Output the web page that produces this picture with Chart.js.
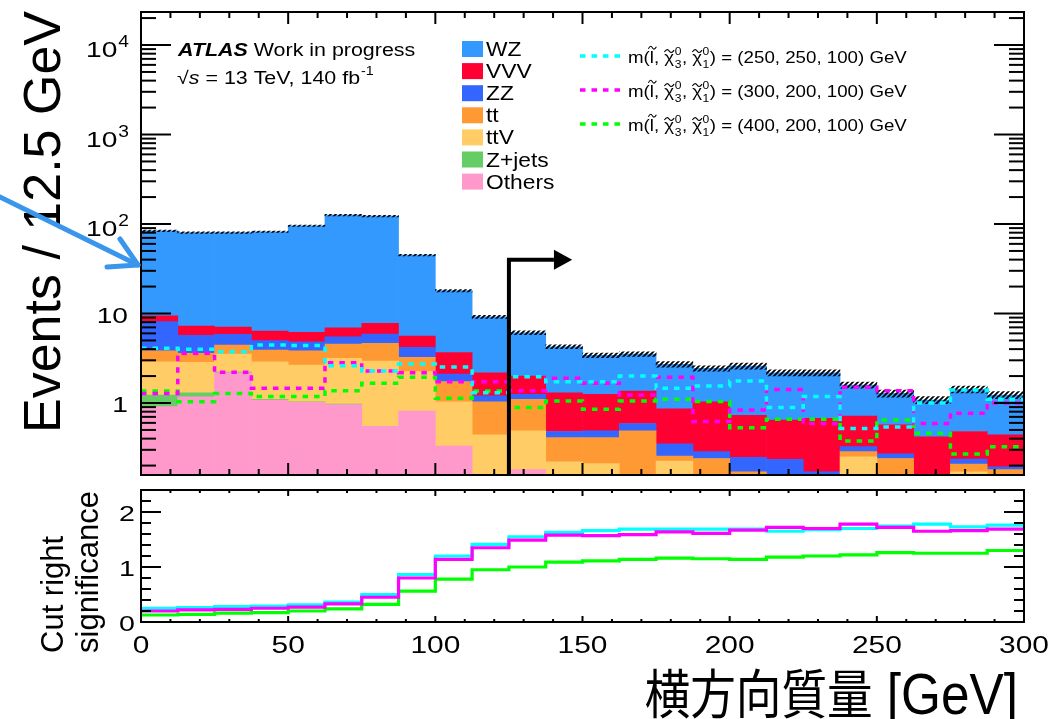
<!DOCTYPE html>
<html>
<head>
<meta charset="utf-8">
<script src="https://cdn.jsdelivr.net/npm/chart.js@4.4.1/dist/chart.umd.min.js"></script>
<style>
  html, body { margin: 0; padding: 0; background: #ffffff; overflow: hidden; }
  #wrap { position: relative; width: 1049px; height: 719px; background: #ffffff; }
  canvas { position: absolute; left: 0; }
  #mainCanvas { top: 0; }
  #ratioCanvas { top: 480px; }
</style>
</head>
<body>
<div id="wrap">
  <canvas id="mainCanvas" width="1049" height="480"></canvas>
  <canvas id="ratioCanvas" width="1049" height="239"></canvas>
</div>
<script>
// ---------------- binning (12.5 GeV bins, 0-300 GeV) ----------------
const binWidth = 12.5;
const binLow = [0, 12.5, 25, 37.5, 50, 62.5, 75, 87.5, 100, 112.5, 125, 137.5,
                150, 162.5, 175, 187.5, 200, 212.5, 225, 237.5, 250, 262.5, 275, 287.5];

// ---------------- background yields per bin ----------------
const bkgOthers = [0.91, 1.17, 2.18, 1.08, 1.02, 0.96, 0.55, 0.81, 0.33, 0.08, 0.18, 0.06,
                   0.05, 0.04, 0.05, 0.03, 0.02, 0.02, 0.02, 0.03, 0.02, 0.01, 0.02, 0.02];
const bkgZjets  = [0.32, 0.13, 0.04, 0.02, 0.01, 0.01, 0, 0, 0, 0, 0, 0,
                   0, 0, 0, 0, 0, 0, 0, 0, 0, 0, 0, 0];
const bkgTtV    = [1.66, 1.55, 1.31, 1.79, 1.63, 2.19, 2.39, 1.44, 0.70, 0.36, 0.31, 0.16,
                   0.16, 0.08, 0.175, 0.07, 0.06, 0.03, 0.03, 0.22, 0.04, 0.02, 0.15, 0.04];
const bkgTt     = [0.95, 0.75, 0.92, 1.02, 1.18, 1.40, 1.71, 0.99, 0.70, 0.59, 0.61, 0.19,
                   0.20, 0.37, 0.031, 0.14, 0.09, 0.05, 0.04, 0.036, 0.18, 0.04, 0.038, 0.12];
const bkgZZ     = [4.26, 2.10, 1.40, 1.06, 1.00, 0.94, 1.25, 0.95, 0.38, 0.17, 0.15, 0.07,
                   0.08, 0.10, 0.094, 0.046, 0.077, 0.135, 0.08, 0.039, 0.03, 0.05, 0.029, 0.014];
const bkgVVV    = [1.30, 1.55, 1.21, 1.40, 1.33, 1.43, 1.87, 1.41, 1.54, 0.98, 0.75, 0.82,
                   0.76, 0.77, 0.51, 0.744, 0.483, 0.41, 0.505, 0.391, 0.30, 0.30, 0.243, 0.246];
const bkgWZ     = [74.6, 72.8, 72.9, 75.6, 89.5, 119, 115, 39.4, 14.35, 7.0, 4.1, 2.95,
                   2.16, 2.17, 1.85, 1.41, 1.86, 1.535, 1.505, 0.874, 0.71, 0.66, 0.94, 0.79];
// relative uncertainty on the total background
const bkgRelUnc = [0.02, 0.02, 0.02, 0.02, 0.02, 0.02, 0.02, 0.02, 0.03, 0.04, 0.05, 0.05,
                   0.06, 0.06, 0.07, 0.07, 0.08, 0.08, 0.08, 0.08, 0.09, 0.09, 0.09, 0.09];

// stacking order, bottom to top
const bkgNames  = ['Others', 'Z+jets', 'ttV', 'tt', 'ZZ', 'VVV', 'WZ'];
const bkgColors = ['#ff99cc', '#66cc66', '#ffcc66', '#ff9933', '#3366ff', '#ff0033', '#3399ff'];
const bkgSeries = [bkgOthers, bkgZjets, bkgTtV, bkgTt, bkgZZ, bkgVVV, bkgWZ];

// ---------------- signal yields per bin ----------------
const sig250_250_100 = [4.08, 3.98, 3.74, 4.45, 4.40, 2.60, 2.28, 2.73, 2.52, 1.30, 1.97, 1.73,
                        1.73, 2.00, 1.46, 1.55, 1.76, 0.89, 1.18, 0.52, 0.54, 1.00, 1.40, 1.10];
const sig300_200_100 = [1.28, 3.59, 2.20, 1.46, 1.46, 2.82, 2.28, 2.18, 1.73, 1.73, 1.37, 1.89,
                        1.66, 1.23, 1.94, 0.62, 0.835, 1.42, 0.59, 1.50, 1.37, 0.59, 0.77, 1.00];
const sig400_200_100 = [1.36, 1.03, 1.28, 1.18, 1.18, 1.37, 1.66, 1.94, 1.13, 1.36, 0.89, 1.05,
                        0.85, 1.05, 1.10, 1.04, 0.53, 0.66, 0.66, 0.376, 0.645, 0.46, 0.27, 0.325];
const signalMasses = [[250, 250, 100], [300, 200, 100], [400, 200, 100]];
const signalColors = ['#00ffff', '#ff00ff', '#00ff00'];
const signalSeries = [sig250_250_100, sig300_200_100, sig400_200_100];

// ---------------- cut-right significance per bin ----------------
const signif250_250_100 = [0.25, 0.26, 0.28, 0.29, 0.31, 0.36, 0.50, 0.86, 1.20, 1.41, 1.55, 1.63,
                           1.66, 1.69, 1.69, 1.69, 1.69, 1.65, 1.68, 1.70, 1.745, 1.78, 1.73, 1.76];
const signif300_200_100 = [0.20, 0.22, 0.23, 0.25, 0.27, 0.33, 0.45, 0.80, 1.14, 1.35, 1.49, 1.58,
                           1.57, 1.59, 1.64, 1.61, 1.67, 1.72, 1.70, 1.78, 1.72, 1.65, 1.66, 1.69];
const signif400_200_100 = [0.127, 0.14, 0.16, 0.17, 0.20, 0.24, 0.32, 0.56, 0.78, 0.95, 1.00, 1.09,
                           1.11, 1.14, 1.16, 1.15, 1.14, 1.18, 1.20, 1.22, 1.26, 1.25, 1.25, 1.30];
const signifSeries = [signif250_250_100, signif300_200_100, signif400_200_100];

// ---------------- axes, ticks, labels ----------------
const xMin = 0, xMax = 300;
const xTickLabels = [0, 50, 100, 150, 200, 250, 300];
const mainYMin = 0.1569, mainYMax = 23380;
const mainYTickLabels = [1, 10, 100, 1000, 10000];
const ratioYMin = 0, ratioYMax = 2.4;
const ratioYTickLabels = [0, 1, 2];
const mainYTitle = 'Events / 12.5 GeV';
const ratioYTitle = ['Cut right', 'significance'];
const xTitle = '横方向質量 [GeV]';
const cutValue = 125;          // GeV, cut position
const cutArrowLevel = 40;      // events, height of the cut arrow
const cutArrowTip = 146.5;     // GeV
const cutArrowHeadBase = 140.3;

const FONT = '"Liberation Sans", Arial, Helvetica, sans-serif';
const CJK = '"Noto Sans CJK JP", "Noto Sans CJK SC", sans-serif';

// ---------------- helpers ----------------
function drawText(ctx, s, x, y, font, sx, align, color) {
  sx = sx || 1;
  ctx.save();
  ctx.font = font;
  ctx.fillStyle = color || '#000';
  ctx.textAlign = 'left';
  ctx.textBaseline = 'alphabetic';
  const w = ctx.measureText(s).width * sx;
  const left = align === 'right' ? x - w : (align === 'center' ? x - w / 2 : x);
  ctx.translate(left, y);
  ctx.scale(sx, 1);
  ctx.fillText(s, 0, 0);
  ctx.restore();
  return w;
}
function drawRotated(ctx, s, x, y, font) {
  ctx.save();
  ctx.font = font;
  ctx.fillStyle = '#000';
  ctx.textAlign = 'left';
  ctx.textBaseline = 'alphabetic';
  ctx.translate(x, y);
  ctx.rotate(-Math.PI / 2);
  ctx.fillText(s, 0, 0);
  ctx.restore();
}
function line(ctx, x1, y1, x2, y2) {
  ctx.beginPath(); ctx.moveTo(x1, y1); ctx.lineTo(x2, y2); ctx.stroke();
}
function tilde(ctx, cx, cy, w) {
  ctx.save();
  ctx.strokeStyle = '#000';
  ctx.lineWidth = 1.1;
  ctx.beginPath();
  const h = 1.6;
  ctx.moveTo(cx - w / 2, cy + h * 0.6);
  ctx.bezierCurveTo(cx - w / 4, cy - h * 1.6, cx - w / 8, cy - h, cx, cy);
  ctx.bezierCurveTo(cx + w / 8, cy + h, cx + w / 4, cy + h * 1.6, cx + w / 2, cy - h * 0.6);
  ctx.stroke();
  ctx.restore();
}
// inward ROOT-style frame ticks on all four sides
function drawFrame(chart, spec) {
  const { ctx, chartArea: a } = chart;
  const xs = chart.scales.x, ys = chart.scales.y;
  ctx.save();
  ctx.strokeStyle = '#000';
  ctx.lineWidth = spec.tickWidth;
  for (let v = xMin; v <= xMax + 1e-9; v += spec.xMinorStep) {
    const major = Math.abs(v / spec.xMajorStep - Math.round(v / spec.xMajorStep)) < 1e-6;
    const len = major ? spec.xMajorLen : spec.xMinorLen;
    const px = xs.getPixelForValue(v);
    line(ctx, px, a.bottom, px, a.bottom - len);
    line(ctx, px, a.top, px, a.top + len);
  }
  spec.yTicks.forEach(t => {
    const py = ys.getPixelForValue(t.v);
    const len = t.major ? spec.yMajorLen : spec.yMinorLen;
    line(ctx, a.left, py, a.left + len, py);
    line(ctx, a.right, py, a.right - len, py);
  });
  ctx.lineWidth = spec.frameWidth;
  ctx.strokeRect(a.left, a.top, a.right - a.left, a.bottom - a.top);
  ctx.restore();
}

// ---------------- datasets for the stacked histogram ----------------
const binCenters = binLow.map(x => x + binWidth / 2);
const stackFloor = 1e-3;   // below the visible range of the log axis
const running = binLow.map(() => 0);
const bkgDatasets = bkgSeries.map((vals, k) => {
  const data = vals.map((v, i) => {
    const lo = running[i];
    const hi = lo + v;
    running[i] = hi;
    return { x: binCenters[i], y: v > 0 ? [Math.max(lo, stackFloor), hi] : null };
  });
  return {
    type: 'bar', label: bkgNames[k], data,
    backgroundColor: bkgColors[k], borderWidth: 0,
    grouped: false, categoryPercentage: 1, barPercentage: 1, order: 3,
    legendBlock: 'bkg'
  };
});
const bkgTotal = running.slice();

function hatchPattern() {
  const c = document.createElement('canvas');
  c.width = 5; c.height = 5;
  const g = c.getContext('2d');
  g.strokeStyle = '#000';
  g.lineWidth = 1.8;
  g.beginPath();
  g.moveTo(0, 5); g.lineTo(5, 0);
  g.moveTo(-1, 1); g.lineTo(1, -1);
  g.moveTo(4, 6); g.lineTo(6, 4);
  g.stroke();
  return document.getElementById('mainCanvas').getContext('2d').createPattern(c, 'repeat');
}
const uncDataset = {
  type: 'bar', label: 'Uncertainty',
  data: bkgTotal.map((t, i) => ({ x: binCenters[i], y: [t * (1 - bkgRelUnc[i]), t * (1 + bkgRelUnc[i])] })),
  backgroundColor: hatchPattern(), borderWidth: 0,
  grouped: false, categoryPercentage: 1, barPercentage: 1, order: 2
};

function stepPoints(vals) {
  const pts = binLow.map((x, i) => ({ x, y: vals[i] }));
  pts.push({ x: xMax, y: vals[vals.length - 1] });
  return pts;
}
const signalDatasets = signalSeries.map((vals, k) => ({
  type: 'line',
  label: 'm(l̃, χ̃₃⁰, χ̃₁⁰) = (' + signalMasses[k].join(', ') + ') GeV',
  data: stepPoints(vals),
  borderColor: signalColors[k], borderWidth: 3.5, borderDash: [5.5, 6],
  pointRadius: 0, stepped: 'before', fill: false, order: 0,
  legendBlock: 'sig', masses: signalMasses[k]
}));

// ---------------- decorations of the upper panel ----------------
const mainYTicks = [];
for (let d = -1; d <= 4; d++) {
  for (let k = 1; k <= 9; k++) {
    const v = k * Math.pow(10, d);
    if (v >= mainYMin && v <= mainYMax) mainYTicks.push({ v, major: k === 1 });
  }
}

function drawSignalLabel(ctx, x, base, masses) {
  const f = 17, sx = 1.1;
  const main = f + 'px ' + FONT;
  const small = '11px ' + FONT;
  let cx = x;
  cx += drawText(ctx, 'm(', cx, base, main, sx);
  let w = drawText(ctx, 'l', cx, base, main, sx);
  tilde(ctx, cx + w / 2 + 0.5, base - f * 0.9, 8);
  cx += w;
  ['3', '1'].forEach((idx, n) => {
    cx += drawText(ctx, ', ', cx, base, main, sx);
    w = drawText(ctx, 'χ', cx, base, main, sx);
    tilde(ctx, cx + w / 2, base - f * 0.7, w);
    const supW = drawText(ctx, '0', cx + w + 0.5, base - f * 0.5, small, sx);
    const subW = drawText(ctx, idx, cx + w + 0.5, base + f * 0.3, small, sx);
    cx += w + Math.max(supW, subW) + 1;
  });
  drawText(ctx, ') = (' + masses.join(', ') + ') GeV', cx, base, main, sx);
}

const mainDecor = {
  id: 'mainDecor',
  afterDatasetsDraw(chart) {
    const { ctx, chartArea: a } = chart;
    const xs = chart.scales.x, ys = chart.scales.y;

    drawFrame(chart, {
      tickWidth: 2, frameWidth: 2,
      xMinorStep: 10, xMajorStep: 50, xMajorLen: 12, xMinorLen: 6,
      yTicks: mainYTicks, yMajorLen: 30, yMinorLen: 15
    });

    // cut arrow
    ctx.save();
    ctx.strokeStyle = '#000'; ctx.fillStyle = '#000'; ctx.lineWidth = 4;
    const cx = xs.getPixelForValue(cutValue);
    const cy = ys.getPixelForValue(cutArrowLevel);
    const hb = xs.getPixelForValue(cutArrowHeadBase);
    const tip = xs.getPixelForValue(cutArrowTip);
    ctx.beginPath();
    ctx.moveTo(cx, a.bottom); ctx.lineTo(cx, cy); ctx.lineTo(hb, cy);
    ctx.stroke();
    ctx.beginPath();
    ctx.moveTo(hb, cy - 10); ctx.lineTo(tip, cy); ctx.lineTo(hb, cy + 10); ctx.closePath();
    ctx.fill();
    ctx.restore();

    // y tick labels
    mainYTickLabels.forEach(v => {
      const py = ys.getPixelForValue(v);
      const e = Math.round(Math.log10(v));
      if (e <= 1) {
        drawText(ctx, String(v), 128, py + 9, '22px ' + FONT, 1.28, 'right');
      } else {
        const ew = drawText(ctx, String(e), 129, py + 2, '16px ' + FONT, 1.2, 'right');
        drawText(ctx, '10', 128 - ew, py + 12, '22px ' + FONT, 1.28, 'right');
      }
    });

    // y title
    drawRotated(ctx, mainYTitle, 60, 433, '52px ' + FONT);

    // experiment label
    let tx = 178;
    tx += drawText(ctx, 'ATLAS', tx, 56, 'italic bold 18px ' + FONT, 1.19);
    drawText(ctx, ' Work in progress', tx, 56, '18px ' + FONT, 1.19);
    tx = 177;
    tx += drawText(ctx, '√', tx, 84, '18px ' + FONT, 1.19);
    tx += drawText(ctx, 's', tx, 84, 'italic 18px ' + FONT, 1.19);
    tx += drawText(ctx, ' = 13 TeV, 140 fb', tx, 84, '18px ' + FONT, 1.19);
    drawText(ctx, '-1', tx + 1, 75, '12px ' + FONT, 1.19);

    // background legend (top of stack first)
    const bkgSets = chart.data.datasets.filter(d => d.legendBlock === 'bkg').slice().reverse();
    bkgSets.forEach((d, i) => {
      const top = 41 + i * 22.1;
      ctx.fillStyle = d.backgroundColor;
      ctx.fillRect(462, top, 21, 16);
      drawText(ctx, d.label, 486, top + 15, '20px ' + FONT, 1.14);
    });

    // signal legend
    const sigSets = chart.data.datasets.filter(d => d.legendBlock === 'sig');
    sigSets.forEach((d, i) => {
      const ly = 56 + i * 34;
      ctx.save();
      ctx.strokeStyle = d.borderColor; ctx.lineWidth = 3.5; ctx.setLineDash(d.borderDash);
      line(ctx, 580, ly, 622, ly);
      ctx.restore();
      drawSignalLabel(ctx, 628, ly + 7, d.masses);
    });

    // highlight arrow
    ctx.save();
    ctx.strokeStyle = '#3a96ec'; ctx.lineWidth = 5; ctx.lineCap = 'round'; ctx.lineJoin = 'round';
    line(ctx, -10, 192, 138, 265);
    ctx.beginPath();
    ctx.moveTo(107, 267); ctx.lineTo(138, 265); ctx.lineTo(120, 239);
    ctx.stroke();
    ctx.restore();
  }
};

new Chart(document.getElementById('mainCanvas'), {
  type: 'bar',
  data: { datasets: [...signalDatasets, uncDataset, ...bkgDatasets] },
  options: {
    responsive: false, animation: false, devicePixelRatio: 1, events: [],
    layout: { padding: { left: 141, right: 25, top: 12, bottom: 5 } },
    plugins: { legend: { display: false }, tooltip: { enabled: false } },
    scales: {
      x: { type: 'linear', min: xMin, max: xMax, offset: false, display: false, ticks: { stepSize: 50 } },
      y: { type: 'logarithmic', min: mainYMin, max: mainYMax, beginAtZero: false, display: false }
    }
  },
  plugins: [mainDecor]
});

// ---------------- lower panel: cut-right significance ----------------
const ratioYTicks = [];
for (let i = 0; i <= 12; i++) {
  const v = i * 0.2;
  ratioYTicks.push({ v, major: Math.abs(v - Math.round(v)) < 1e-6 });
}

const ratioDecor = {
  id: 'ratioDecor',
  afterDatasetsDraw(chart) {
    const { ctx, chartArea: a } = chart;
    const xs = chart.scales.x, ys = chart.scales.y;
    drawFrame(chart, {
      tickWidth: 2, frameWidth: 2,
      xMinorStep: 10, xMajorStep: 50, xMajorLen: 6, xMinorLen: 3,
      yTicks: ratioYTicks, yMajorLen: 20, yMinorLen: 10
    });
    ratioYTickLabels.forEach(v => {
      drawText(ctx, String(v), 135, ys.getPixelForValue(v) + 9, '22px ' + FONT, 1.3, 'right');
    });
    xTickLabels.forEach(v => {
      drawText(ctx, String(v), xs.getPixelForValue(v), 173, '23px ' + FONT, 1.3, 'center');
    });
    drawRotated(ctx, ratioYTitle[0], 63, 173, '31px ' + FONT);
    drawRotated(ctx, ratioYTitle[1], 98, 173, '31px ' + FONT);

    const cut = xTitle.indexOf(' ');
    const gevW = drawText(ctx, xTitle.slice(cut), 1018, 234, '57px ' + FONT, 0.9, 'right');
    drawText(ctx, xTitle.slice(0, cut), 1018 - gevW, 234, '53px ' + CJK, 0.86, 'right');
  }
};

const ratioOrder = [1, 0, 2];
new Chart(document.getElementById('ratioCanvas'), {
  type: 'line',
  data: {
    datasets: signifSeries.map((vals, k) => ({
      label: 'm(l̃, χ̃₃⁰, χ̃₁⁰) = (' + signalMasses[k].join(', ') + ') GeV',
      data: stepPoints(vals),
      borderColor: signalColors[k], borderWidth: 3.2,
      pointRadius: 0, stepped: 'before', fill: false, order: ratioOrder[k]
    }))
  },
  options: {
    responsive: false, animation: false, devicePixelRatio: 1, events: [],
    layout: { padding: { left: 141, right: 25, top: 10, bottom: 97 } },
    plugins: { legend: { display: false }, tooltip: { enabled: false } },
    scales: {
      x: { type: 'linear', min: xMin, max: xMax, display: false },
      y: { type: 'linear', min: ratioYMin, max: ratioYMax, display: false }
    }
  },
  plugins: [ratioDecor]
});
</script>
</body>
</html>
